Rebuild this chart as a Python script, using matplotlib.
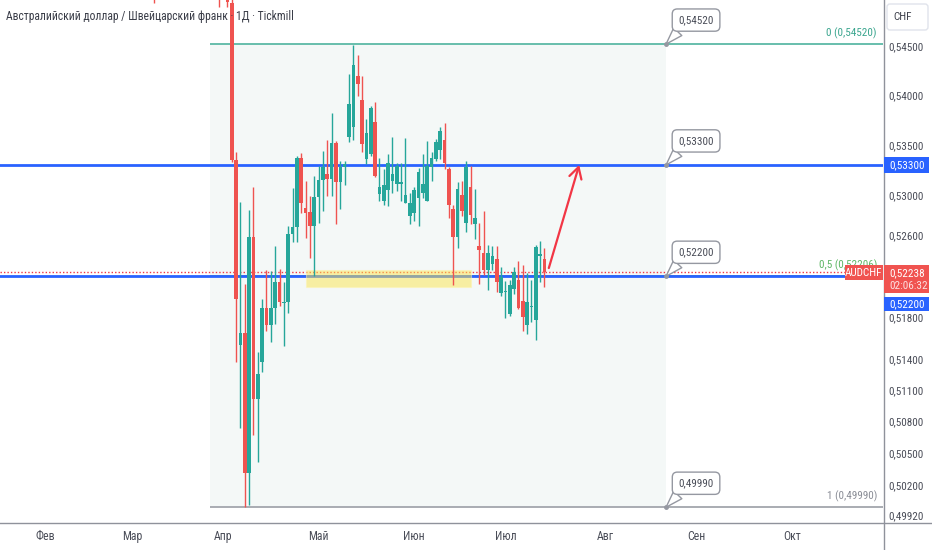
import matplotlib
matplotlib.use('Agg')
import matplotlib.pyplot as plt
import matplotlib.font_manager as fm
import numpy as np
import pandas as pd
from matplotlib.patches import Rectangle, FancyBboxPatch
from matplotlib.lines import Line2D
from matplotlib.transforms import IdentityTransform
from matplotlib.ticker import FixedLocator, NullLocator, NullFormatter

_names = {f.name for f in fm.fontManager.ttflist}
_prefs = ['Roboto Condensed', 'PT Sans Narrow', 'Fira Sans Condensed', 'IBM Plex Sans Condensed',
          'Open Sans Condensed', 'Archivo Narrow', 'Encode Sans Condensed', 'Barlow Semi Condensed',
          'Liberation Sans Narrow', 'Roboto', 'DejaVu Sans']
FONT = next(n for n in _prefs if n in _names)
plt.rcParams['font.family'] = [FONT, 'DejaVu Sans']

# ---------------- data ----------------
title = "Австралийский доллар / Швейцарский франк · 1Д · Tickmill"
calendar_start = "2025-02-03"          # trading-day 0 (Фев)
series_start = "2025-03-31"            # first daily bar of the main series

extra_dates = ["2025-03-10"]
extra_open = [0.5560]
extra_high = [0.5580]
extra_low = [0.5494]
extra_close = [0.5540]

opens = [0.5535, 0.5510, 0.5530,
         0.5494, 0.5335, 0.5153, 0.5165, 0.5031, 0.5259, 0.5101,
         0.5137, 0.5189, 0.5173, 0.5189, 0.5214,
         0.5194, 0.5195, 0.5261, 0.5268, 0.5337,
         0.5287, 0.5283, 0.5269, 0.5298, 0.5315,
         0.5321, 0.5316, 0.5352, 0.5313, 0.5328,
         0.5358, 0.5368, 0.5420, 0.5395, 0.5336,
         0.5341, 0.5373, 0.5301, 0.5294, 0.5305,
         0.5314, 0.5311, 0.5311, 0.5292, 0.5279,
         0.5282, 0.5297, 0.5302, 0.5294, 0.5328,
         0.5336, 0.5345, 0.5355, 0.5326, 0.5286,
         0.5259, 0.5300, 0.5272, 0.5308, 0.5271,
         0.5250, 0.5243, 0.5226, 0.5232, 0.5237,
         0.5204, 0.5205, 0.5183, 0.5208, 0.5216,
         0.5196, 0.5173, 0.5190, 0.5177, 0.5240,
         0.5237]
highs = [0.5560, 0.5545, 0.5560,
         0.5500, 0.5343, 0.5293, 0.5212, 0.5285, 0.5308, 0.5146,
         0.5198, 0.5226, 0.5225, 0.5250, 0.5227,
         0.5214, 0.5269, 0.5307, 0.5339, 0.5342,
         0.5314, 0.5299, 0.5319, 0.5329, 0.5344,
         0.5355, 0.5382, 0.5354, 0.5334, 0.5334,
         0.5422, 0.5451, 0.5441, 0.5419, 0.5376,
         0.5389, 0.5393, 0.5337, 0.5326, 0.5341,
         0.5358, 0.5332, 0.5332, 0.5357, 0.5302,
         0.5308, 0.5327, 0.5341, 0.5354, 0.5343,
         0.5356, 0.5368, 0.5372, 0.5328, 0.5290,
         0.5313, 0.5314, 0.5334, 0.5329, 0.5306,
         0.5272, 0.5284, 0.5251, 0.5250, 0.5250,
         0.5229, 0.5215, 0.5216, 0.5229, 0.5235,
         0.5231, 0.5223, 0.5216, 0.5251, 0.5255,
         0.5248]
lows = [0.5490, 0.5503, 0.5490,
        0.5333, 0.5137, 0.5074, 0.49995, 0.5001, 0.5067, 0.5042,
        0.5127, 0.5167, 0.5156, 0.5174, 0.5191,
        0.5152, 0.5184, 0.5254, 0.5254, 0.5282,
        0.5258, 0.5238, 0.5220, 0.5272, 0.5284,
        0.5299, 0.5299, 0.5271, 0.5286, 0.5310,
        0.5353, 0.5355, 0.5399, 0.5343, 0.5331,
        0.5339, 0.5318, 0.5294, 0.5290, 0.5289,
        0.5302, 0.5304, 0.5294, 0.5292, 0.5271,
        0.5274, 0.5269, 0.5297, 0.5294, 0.5314,
        0.5334, 0.5336, 0.5326, 0.5277, 0.5211,
        0.5248, 0.5279, 0.5263, 0.5271, 0.5257,
        0.5212, 0.5221, 0.5207, 0.5226, 0.5205,
        0.5201, 0.5179, 0.5181, 0.5203, 0.5188,
        0.5167, 0.5164, 0.5175, 0.5158, 0.5214,
        0.5210]
closes = [0.5500, 0.5530, 0.5495,
          0.5335, 0.5198, 0.5165, 0.5031, 0.5259, 0.5101, 0.5125,
          0.5189, 0.5173, 0.5189, 0.5214, 0.5195,
          0.5195, 0.5261, 0.5268, 0.5337, 0.5292,
          0.5282, 0.5269, 0.5298, 0.5315, 0.5328,
          0.5316, 0.5352, 0.5313, 0.5328, 0.5331,
          0.5391, 0.5431, 0.5411, 0.5351, 0.5362,
          0.5387, 0.5319, 0.5308, 0.5310, 0.5332,
          0.5321, 0.5329, 0.5313, 0.5300, 0.5292,
          0.5305, 0.5323, 0.5311, 0.5329, 0.5337,
          0.5353, 0.5364, 0.5332, 0.5290, 0.5259,
          0.5306, 0.5284, 0.5328, 0.5280, 0.5277,
          0.5246, 0.5226, 0.5243, 0.5240, 0.5214,
          0.5219, 0.5206, 0.5211, 0.5224, 0.5189,
          0.5180, 0.5195, 0.5191, 0.5249, 0.5242,
          0.52238]

month_dates = ["2025-02-03", "2025-03-03", "2025-04-01", "2025-05-01", "2025-06-02",
               "2025-07-01", "2025-08-01", "2025-09-01", "2025-10-01"]
month_labels = ["Фев", "Мар", "Апр", "Май", "Июн", "Июл", "Авг", "Сен", "Окт"]

price_ticks = [0.545, 0.540, 0.535, 0.530, 0.526, 0.518, 0.514, 0.511, 0.508, 0.505, 0.502, 0.4992]
view_bars = (-10.36, 192.95)           # visible range in trading days from calendar_start
view_prices = (0.49852, 0.54972)

fib_start, fib_end = "2025-03-27", "2025-08-21"
fib_levels = [0.0, 0.5, 1.0]
fib_prices = [0.5452, 0.52206, 0.4999]
hlines_blue = [0.533, 0.522]
last_price = 0.52238
countdown = "02:06:32"
symbol = "AUDCHF"
currency = "CHF"
note_date = "2025-08-21"
note_prices = [0.5452, 0.533, 0.522, 0.4999]
zone_dates = ("2025-04-28", "2025-06-19")
zone_prices = (0.5210, 0.5226)
arrow_from = ("2025-07-15", 0.5228)
arrow_to = ("2025-07-24", 0.5330)

# ---------------- helpers ----------------
def pos(d):
    return float(np.busday_count(calendar_start, str(pd.Timestamp(d).date())))

def fmt(p):
    return f"{p:.5f}".replace(".", ",")

UP, DOWN = '#26a69a', '#ef5350'
BLUE = '#2962ff'
RED = '#f23645'
TXT = '#4a4d58'
SEP = '#8f929b'
ID = IdentityTransform()

W, H = 932, 550
AX_R, AX_B = 883, 522
fig = plt.figure(figsize=(W / 100, H / 100), dpi=100)
fig.patch.set_facecolor('white')
R = fig.canvas.get_renderer()

def text_w(s, size):
    t = fig.text(0, 0, s, fontsize=size)
    w = t.get_window_extent(renderer=R).width
    t.remove()
    return w

FS = 10 * 35.0 / text_w('0,54500', 10)       # small label size (axis / notes)
FS_T = 10 * 286 / text_w(title, 10)           # title size
FS_T = min(FS_T, FS * 1.3)

ax = fig.add_axes([0, (H - AX_B) / H, AX_R / W, AX_B / H])
ax.set_facecolor('white')
ax.set_yscale('log')
ax.set_xlim(*view_bars)
ax.set_ylim(*view_prices)
for s in ax.spines.values():
    s.set_visible(False)

# candles
dates_main = pd.bdate_range(series_start, periods=len(opens))
xs = [pos(d) for d in extra_dates] + [pos(d) for d in dates_main]
O = extra_open + opens
Hh = extra_high + highs
L = extra_low + lows
C = extra_close + closes
cols = [UP if c >= o else DOWN for o, c in zip(O, C)]
ax.vlines(xs, L, Hh, colors=cols, lw=1.0, zorder=3)
bottoms = [min(o, c) for o, c in zip(O, C)]
heights = [max(abs(c - o), 0.0001) for o, c in zip(O, C)]
ax.bar(xs, heights, bottom=bottoms, width=0.84, color=cols, lw=0, zorder=3.1)

# fib retracement
fx0, fx1 = pos(fib_start), pos(fib_end)
xr = ax.get_xlim()[1]
ax.add_patch(Rectangle((fx0, fib_prices[2]), fx1 - fx0, fib_prices[0] - fib_prices[2],
                       facecolor='#f4f8f7', edgecolor='none', zorder=0.5))
fib_line_cols = ['#5cb9a6', '#66bb6a', '#a3a6ad']
fib_text_cols = ['#3aa58e', '#5fb665', '#8a8d96']
for lv, p, lc, tc in zip(fib_levels, fib_prices, fib_line_cols, fib_text_cols):
    ax.hlines(p, fx0, xr, colors=lc, lw=1.3, zorder=1)
    lab = f"{lv:g} ({fmt(p)})".replace(".", ",")
    ax.annotate(lab, xy=(1, p), xycoords=('axes fraction', 'data'), xytext=(-6, 5),
                textcoords='offset pixels', ha='right', va='bottom', fontsize=FS, color=tc,
                zorder=5)

# horizontal blue lines
for p in hlines_blue:
    ax.axhline(p, color=BLUE, lw=2, zorder=2)
# last price dotted line
ax.axhline(last_price, color=RED, lw=1, ls=(0, (1, 1.5)), zorder=2.2)

# yellow zone
zx0, zx1 = pos(zone_dates[0]), pos(zone_dates[1])
ax.add_patch(Rectangle((zx0, zone_prices[0]), zx1 - zx0, zone_prices[1] - zone_prices[0],
                       facecolor='#fbe64f', alpha=0.5, edgecolor='#fdf3b0', lw=0.8, zorder=2.5))

# arrow
ax.annotate('', xy=(pos(arrow_to[0]), arrow_to[1]), xytext=(pos(arrow_from[0]), arrow_from[1]),
            arrowprops=dict(arrowstyle='->,head_length=0.8,head_width=0.45', color=RED, lw=1.6,
                            shrinkA=0, shrinkB=0), zorder=6)

# price notes (callouts)
nx = pos(note_date)
for p in note_prices:
    ax.plot([nx], [p], 'o', ms=2.5, color='#9598a1', zorder=6)
    ax.annotate(fmt(p), xy=(nx, p), xytext=(30, 24), textcoords='offset pixels',
                ha='center', va='center', fontsize=FS, color=TXT,
                bbox=dict(boxstyle='round,pad=0.55,rounding_size=0.45', fc='white', ec='#9598a1', lw=1),
                arrowprops=dict(arrowstyle='wedge,tail_width=1.0,shrink_factor=0.5', fc='white',
                                ec='#9598a1', lw=1, relpos=(0.16, 0.0), shrinkA=0, shrinkB=0),
                zorder=7, annotation_clip=False)

# axes ticks
ax.yaxis.tick_right()
ax.yaxis.set_major_locator(FixedLocator(price_ticks))
ax.yaxis.set_minor_locator(NullLocator())
ax.yaxis.set_minor_formatter(NullFormatter())
ax.set_yticklabels([fmt(p) for p in price_ticks])
ax.tick_params(axis='y', length=0, pad=4.0, labelsize=FS, labelcolor=TXT)
ax.set_xticks([pos(d) for d in month_dates])
ax.set_xticklabels(month_labels)
ax.tick_params(axis='x', length=0, pad=5.5, labelsize=FS * 1.05, labelcolor=TXT)

# separators
fig.add_artist(Line2D([0, W], [H - AX_B - 0.5] * 2, transform=ID, color=SEP, lw=1))
fig.add_artist(Line2D([AX_R + 0.5] * 2, [0, H], transform=ID, color=SEP, lw=1))

# title
fig.text(6, H - 16.5, title, transform=ID, ha='left', va='center',
         fontsize=FS_T, color='#3a3d48', zorder=10)

# currency box
fig.add_artist(FancyBboxPatch((887, H - 30), 41, 26, boxstyle='round,pad=0,rounding_size=3',
                              transform=ID, fc='white', ec='#e0e3eb', lw=1))
fig.text(893, H - 17, currency, transform=ID, ha='left', va='center',
         fontsize=FS, color='#3e414c')

# right axis price labels
def ypix(p):
    return ax.transData.transform((ax.get_xlim()[0], p))[1]

def box(x0, y0, w, h, fc):
    fig.add_artist(Rectangle((x0, y0), w, h, transform=ID, fc=fc, ec='none', zorder=8))

yb = ypix(hlines_blue[0])
box(884, yb - 8, 45, 16, BLUE)
fig.text(889, yb, fmt(hlines_blue[0]), transform=ID, ha='left', va='center',
         fontsize=FS, color='white', zorder=9)

yl = ypix(last_price)
box(884, yl - 21, 45, 28, '#f05350')
fig.text(889, yl - 1, fmt(last_price), transform=ID, ha='left', va='center',
         fontsize=FS, color='white', zorder=9)
fig.text(889, yl - 14, countdown, transform=ID, ha='left', va='center',
         fontsize=FS, color='#fde0e0', zorder=9)
box(845, yl - 8, 38, 15, '#f05350')
fig.text(864, yl - 1, symbol, transform=ID, ha='center', va='center',
         fontsize=FS, color='white', zorder=9)

y2 = yl - 21 - 4 - 7
box(884, y2 - 7, 45, 14, BLUE)
fig.text(889, y2, fmt(hlines_blue[1]), transform=ID, ha='left', va='center',
         fontsize=FS, color='white', zorder=9)

fig.savefig('out.png', dpi=100, facecolor='white')
